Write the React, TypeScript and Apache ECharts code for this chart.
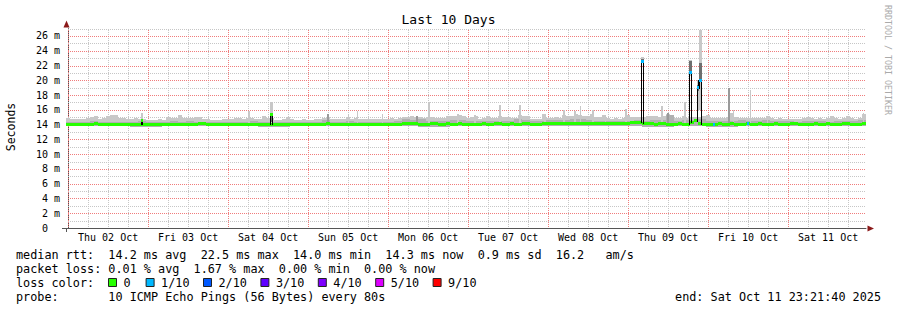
import { useEffect, useRef } from 'react';
import * as echarts from 'echarts';

// ---- time axis: hours relative to Thu 02 Oct 2025 00:00 ----
const T_START = -0.638889; // Wed 01 Oct 23:21:40
const T_END = 239.361111; // Sat 11 Oct 23:21:40
const SMOKE_STEP = 1.2; // hours per smoke / median sample
const DARK_STEP = 2.4; // hours per inner-smoke sample
const FLOOR_STEP = 9.6; // hours per smoke-floor sample

const dayLabels = ['Thu 02 Oct', 'Fri 03 Oct', 'Sat 04 Oct', 'Sun 05 Oct', 'Mon 06 Oct', 'Tue 07 Oct', 'Wed 08 Oct', 'Thu 09 Oct', 'Fri 10 Oct', 'Sat 11 Oct'];
const dayLabelHours = [12, 36, 60, 84, 108, 132, 156, 180, 204, 228];

// light smoke top (ms), 1.2 h samples
const smokeTop = [
  14.95, 14.8, 14.75, 14.8, 14.75, 14.95, 15.0, 15.1, 14.8, 14.85,
  15.2, 15.3, 15.25, 14.9, 14.85, 14.75, 14.8, 14.9, 14.75, 14.8,
  14.6, 14.65, 14.6, 14.7, 14.65, 15.0, 14.85, 14.9, 15.3, 14.9,
  14.85, 14.9, 15.05, 15.0, 14.8, 14.7, 14.6, 14.65, 14.6, 14.7,
  14.8, 14.75, 14.9, 14.85, 14.7, 14.95, 14.85, 14.8, 14.75, 15.1,
  14.85, 14.9, 14.6, 14.65, 14.7, 15.05, 14.7, 14.65, 14.6, 14.7,
  14.65, 14.6, 14.75, 14.8, 14.85, 15.0, 14.75, 14.7, 14.75, 14.8,
  15.05, 14.8, 14.9, 14.8, 14.7, 14.75, 14.7, 14.75, 14.7, 14.75,
  14.7, 14.85, 14.8, 14.9, 15.05, 15.0, 15.1, 15.05, 15.0, 14.9,
  15.0, 15.0, 14.85, 14.9, 14.95, 15.2, 15.1, 15.15, 15.3, 15.1,
  14.9, 15.0, 15.2, 14.8, 14.85, 15.2, 14.9, 14.95, 15.1, 15.05,
  15.0, 14.95, 14.9, 15.3, 15.2, 15.15, 14.8, 14.75, 14.8, 15.5,
  14.9, 14.9, 15.05, 14.9, 15.3, 15.2, 15.2, 15.5, 15.3, 15.2,
  15.1, 15.4, 15.0, 15.0, 15.25, 14.85, 14.8, 14.85, 14.8, 14.9,
  15.3, 15.0, 15.05, 15.0, 15.0, 15.2, 15.15, 15.2, 15.0, 15.2,
  15.5, 15.3, 14.9, 14.9, 15.1, 14.85, 15.0, 15.0, 15.0, 15.2,
  15.25, 14.9, 14.9, 14.95, 14.9, 15.0, 15.6, 15.0, 14.9, 14.95,
  14.9, 14.9, 14.95, 14.9, 14.95, 15.2, 14.85, 14.8, 14.85, 14.8,
  14.75, 14.8, 14.75, 14.8, 14.85, 15.05, 14.9, 14.8, 14.85, 14.8,
  14.85, 15.1, 14.85, 14.8, 14.85, 15.2, 14.9, 14.8, 14.85, 15.4,
];

// inner (darker) smoke top, 2.4 h samples
const darkTop = [
  14.4, 14.35, 14.4, 14.45, 14.4, 14.35, 14.4, 14.35, 14.4, 14.45,
  14.3, 14.35, 14.4, 14.45, 14.4, 14.5, 14.4, 14.35, 14.3, 14.35,
  14.4, 14.35, 14.4, 14.45, 14.4, 14.35, 14.3, 14.35, 14.3, 14.35,
  14.3, 14.4, 14.6, 14.4, 14.4, 14.45, 14.4, 14.35, 14.35, 14.4,
  14.4, 14.45, 14.7, 14.65, 14.8, 14.5, 14.5, 14.55, 14.6, 14.6,
  14.5, 14.5, 14.5, 14.55, 14.5, 14.55, 14.7, 14.65, 14.5, 14.5,
  14.6, 14.6, 14.65, 14.7, 14.75, 14.6, 14.55, 14.5, 14.45, 14.5,
  14.55, 14.6, 14.55, 14.6, 14.6, 15.3, 14.5, 14.6, 14.6, 14.7,
  14.55, 14.5, 14.5, 14.5, 14.6, 14.5, 14.55, 14.6, 14.5, 14.5,
  14.45, 14.4, 14.45, 14.5, 14.45, 14.4, 14.5, 14.45, 14.5, 14.6,
];

// smoke floor, 9.6 h samples
const smokeBottom = [
  13.75, 13.8, 13.7, 13.8, 13.75, 13.8, 13.7, 13.8, 13.75, 13.8,
  13.8, 13.7, 13.8, 13.75, 13.85, 13.8, 13.75, 13.8, 13.7, 13.75,
  13.7, 13.8, 13.75, 13.8, 13.75,
];

// median rtt (ms), 1.2 h samples
const medianRtt = [
  14.05, 14.05, 14.0, 14.05, 14.05, 14.05, 14.05, 14.1, 14.05, 14.05, 14.05, 14.05, 14.0, 14.05, 14.05, 14.05, 14.05, 14.05, 14.05, 14.05,
  14.05, 14.05, 14.05, 14.0, 14.05, 14.05, 14.05, 14.05, 14.05, 14.05, 14.05, 14.05, 14.05, 14.1, 14.1, 14.05, 14.05, 14.0, 14.05, 14.05,
  14.05, 14.05, 14.05, 14.05, 14.05, 14.05, 14.05, 14.05, 14.0, 14.05, 14.05, 14.05, 14.05, 14.05, 14.05, 14.05, 14.05, 14.0, 14.05, 14.05,
  14.05, 14.05, 14.05, 14.05, 14.05, 14.1, 14.05, 14.05, 14.05, 14.05, 14.05, 14.05, 14.05, 14.05, 14.0, 14.05, 14.05, 14.05, 14.05, 14.05,
  14.05, 14.05, 14.05, 14.05, 14.1, 14.1, 14.1, 14.1, 14.05, 14.05, 14.05, 14.1, 14.1, 14.05, 14.05, 14.1, 14.05, 14.05, 14.1, 14.05,
  14.05, 14.05, 14.05, 14.05, 14.1, 14.05, 14.05, 14.1, 14.1, 14.05, 14.05, 14.1, 14.05, 14.05, 14.1, 14.1, 14.05, 14.05, 14.05, 14.1,
  14.1, 14.15, 14.1, 14.15, 14.1, 14.15, 14.2, 14.15, 14.1, 14.15, 14.2, 14.2, 14.15, 14.2, 14.2, 14.15, 14.1, 14.15, 14.1, 14.15,
  14.2, 14.25, 14.3, 14.3, 14.2, 14.15, 14.1, 14.05, 14.1, 14.1, 14.05, 14.0, 14.05, 14.1, 14.05, 14.05, 14.3, 14.5, 14.1, 14.05,
  14.0, 14.05, 13.95, 14.1, 14.0, 14.05, 14.1, 14.0, 14.05, 13.95, 14.1, 14.05, 14.0, 14.1, 14.05, 13.95, 14.05, 14.1, 14.0, 14.05,
  14.05, 14.1, 14.1, 14.05, 14.05, 14.0, 14.05, 14.1, 14.05, 14.05, 14.1, 14.05, 14.0, 14.05, 14.1, 14.1, 14.05, 14.0, 14.05, 14.1,
];

// thin smoke peaks
const peakHours = [53.96, 77.66, 83.96, 86.66, 94.16, 104.36, 107.96, 116.66, 121.76, 129.26, 135.26, 142.76, 148.46, 151.76, 153.56, 157.16, 161.06, 167.06, 177.86, 179.66, 184.76, 197.96, 199.46, 204.56, 209.66, 238.46];
const peakSpan = [0.6, 0.6, 0.3, 0.3, 0.3, 0.6, 0.6, 0.6, 0.6, 0.6, 0.6, 0.6, 0.6, 0.6, 0.3, 0.6, 0.3, 0.6, 0.6, 0.6, 0.6, 0.6, 0.3, 0.3, 0.3, 0.3];
const peakTop = [15.9, 15.5, 15.3, 15.8, 15.5, 15.15, 17.1, 15.4, 15.25, 16.6, 16.7, 15.5, 16.0, 15.85, 16.5, 16.0, 15.3, 16.1, 16.5, 15.6, 17.0, 19.0, 16.0, 18.7, 15.2, 15.6];
const peakShade = [0, 1, 0, 0, 0, 1, 0, 0, 0, 0, 0, 0, 0, 0, 0, 0, 0, 0, 0, 1, 0, 1, 0, 0, 0, 0];

// median spikes
const spikeHours = [21.86, 60.56, 171.86, 186.26, 188.66, 189.26];
const spikeSpan = [0.6, 0.9, 0.9, 0.9, 0.6, 0.9];
const spikeMedian = [14.6, 15.4, 22.55, 21.0, 19.0, 20.0];
const spikeLoss = [0, 0, 1, 1, 1, 1];
const spikeLow = [13.8, 13.8, 22.3, 20.6, 15.8, 16.0];
const spikeHigh = [15.55, 17.1, 23.1, 22.75, 20.0, 26.8];
const spikeDarkLow = [14.3, 14.4, 22.4, 21.0, 18.6, 20.0];
const spikeDarkHigh = [14.6, 15.6, 22.9, 22.6, 19.4, 22.3];

// isolated loss marks on the median
const lossHours = [193.46, 203.66];
const lossSpan = [0.6, 0.6];
const lossLevel = [1, 1];

const lossLabels = ['0', '1/10', '2/10', '3/10', '4/10', '5/10', '9/10'];
const lossColors = ['#26ff00', '#00b8ff', '#0059ff', '#5e00ff', '#7e00ff', '#dd00ff', '#ff0000'];

const titleText = 'Last 10 Days';
const yAxisName = 'Seconds';
const watermark = 'RRDTOOL / TOBI OETIKER';
const rttLine = 'median rtt:  14.2 ms avg  22.5 ms max  14.0 ms min  14.3 ms now  0.9 ms sd  16.2   am/s';
const lossLine = 'packet loss: 0.01 % avg  1.67 % max  0.00 % min  0.00 % now';
const lossColorLabel = 'loss color:';
const probeLine = 'probe:       10 ICMP Echo Pings (56 Bytes) every 80s';
const endLine = 'end: Sat Oct 11 23:21:40 2025';

// ---- styling / layout ----
const FONT = '"DejaVu Sans Mono", monospace';
const GRID_LEFT = 66;
const GRID_RIGHT = 31;
const GRID_TOP = 28.6;
const GRID_BOTTOM = 82;
const Y_MAX = 27;
const MAJOR = '#f07c7c';
const MINOR = '#c6c6c6';
const AXIS = '#555555';
const ARROW = '#8b1a1a';
const SMOKE = '#c8c8c8';
const SMOKE_DARK = '#b0b0b0';
const PEAK_DARK = '#9a9a9a';
const SPIKE_DARK = '#6e6e6e';

function rectShape(api: any, t0: number, t1: number, lo: number, hi: number) {
  const a = api.coord([t0, hi]);
  const b = api.coord([t1, lo]);
  const x0 = Math.round(a[0]);
  const x1 = Math.round(b[0]);
  const y0 = Math.round(a[1]);
  const y1 = Math.round(b[1]);
  return { x: x0, y: y0, width: Math.max(1, x1 - x0), height: Math.max(1, y1 - y0) };
}

function bandSeries(id: string, items: number[][], color: (api: any) => string, z: number) {
  return {
    type: 'custom',
    id,
    z,
    silent: true,
    clip: true,
    coordinateSystem: 'cartesian2d',
    encode: { x: [0, 1], y: [2, 3] },
    data: items,
    renderItem: (_p: any, api: any) => ({
      type: 'rect',
      shape: rectShape(api, api.value(0), api.value(1), api.value(2), api.value(3)),
      style: { fill: color(api) },
    }),
  };
}

function medianAt(t: number) {
  const i = Math.min(medianRtt.length - 1, Math.max(0, Math.floor((t - T_START) / SMOKE_STEP)));
  return medianRtt[i];
}

// dotted grid lines (1 px on, 1 px off) placed on the axis scales
function gridSeries(id: string, values: number[], majors: boolean[], vertical: boolean) {
  return {
    type: 'custom',
    id,
    z: 1,
    silent: true,
    coordinateSystem: 'cartesian2d',
    encode: { x: 0, y: 1 },
    data: values.map((v) => (vertical ? [v, 0] : [T_START, v])),
    renderItem: (params: any, api: any) => {
      const idx = params.dataIndex;
      const fill = majors[idx] ? MAJOR : MINOR;
      const v = values[idx];
      const children: any[] = [];
      if (vertical) {
        const x = Math.round(api.coord([v, 0])[0]);
        const yTop = Math.round(api.coord([v, Y_MAX])[1]);
        const yBot = Math.round(api.coord([v, 0])[1]);
        for (let y = yBot - 2; y >= yTop; y -= 2) children.push({ type: 'rect', shape: { x, y, width: 1, height: 1 }, style: { fill } });
      } else {
        const y = Math.round(api.coord([T_START, v])[1]);
        const xL = Math.round(api.coord([T_START, v])[0]);
        const xR = Math.round(api.coord([T_END, v])[0]);
        for (let x = xL + 2; x < xR; x += 2) children.push({ type: 'rect', shape: { x, y, width: 1, height: 1 }, style: { fill } });
      }
      return { type: 'group', children };
    },
  };
}

function buildOption() {
  const smokeItems = smokeTop.map((hi, i) => [T_START + i * SMOKE_STEP, T_START + (i + 1) * SMOKE_STEP, smokeBottom[Math.floor((i * SMOKE_STEP) / FLOOR_STEP + 1e-9)], hi]);
  const darkItems = darkTop.map((hi, j) => [T_START + j * DARK_STEP, T_START + (j + 1) * DARK_STEP, smokeBottom[Math.floor((j * DARK_STEP) / FLOOR_STEP + 1e-9)], hi]);
  const peakItems = peakHours.map((t, k) => [t, t + peakSpan[k], 14.0, peakTop[k], peakShade[k]]);
  const spikeSmokeItems = spikeHours.map((t, k) => [t, t + spikeSpan[k], spikeLow[k], spikeHigh[k]]);
  const spikeDarkItems = spikeHours.map((t, k) => [t, t + spikeSpan[k], spikeDarkLow[k], spikeDarkHigh[k]]);
  const medianItems = medianRtt.map((m, i) => [T_START + i * SMOKE_STEP, T_START + (i + 1) * SMOKE_STEP, m, 0]);
  const spikeItems = spikeHours.map((t, k) => {
    const end = t + spikeSpan[k];
    const prevAdj = k > 0 && Math.abs(spikeHours[k - 1] + spikeSpan[k - 1] - t) < 1e-6;
    const nextAdj = k < spikeHours.length - 1 && Math.abs(spikeHours[k + 1] - end) < 1e-6;
    const prev = prevAdj ? spikeMedian[k - 1] : medianAt(t - 0.01);
    const next = nextAdj ? spikeMedian[k + 1] : medianAt(end + 0.01);
    return [t, end, spikeMedian[k], spikeLoss[k], prev, next];
  });
  const lossItems = lossHours.map((t, k) => [t, t + lossSpan[k], medianAt(t), lossLevel[k]]);

  const gridHours: number[] = [];
  const gridHoursMajor: boolean[] = [];
  for (let h = 0; h < T_END; h += 6) {
    gridHours.push(h);
    gridHoursMajor.push(h % 24 === 0);
  }
  const gridMs: number[] = [];
  const gridMsMajor: boolean[] = [];
  for (let v = 1; v <= Y_MAX; v += 1) {
    gridMs.push(v);
    gridMsMajor.push(v % 2 === 0);
  }

  const series: any[] = [
    gridSeries('vgrid', gridHours, gridHoursMajor, true),
    gridSeries('hgrid', gridMs, gridMsMajor, false),
    bandSeries('smoke', smokeItems, () => SMOKE, 2),
    bandSeries('smokeDark', darkItems, () => SMOKE_DARK, 3),
    bandSeries('peaks', peakItems, (api) => (api.value(4) ? PEAK_DARK : SMOKE), 4),
    bandSeries('spikeSmoke', spikeSmokeItems, () => SMOKE, 5),
    bandSeries('spikeSmokeDark', spikeDarkItems, () => SPIKE_DARK, 6),
    {
      type: 'custom',
      id: 'median',
      z: 7,
      silent: true,
      clip: true,
      coordinateSystem: 'cartesian2d',
      encode: { x: [0, 1], y: 2 },
      data: medianItems,
      renderItem: (_p: any, api: any) => {
        const a = api.coord([api.value(0), api.value(2)]);
        const b = api.coord([api.value(1), api.value(2)]);
        const x0 = Math.round(a[0]);
        const x1 = Math.round(b[0]);
        return {
          type: 'rect',
          shape: { x: x0, y: Math.round(a[1] - 1.5), width: x1 - x0, height: 3 },
          style: { fill: lossColors[api.value(3)] },
        };
      },
    },
    {
      type: 'custom',
      id: 'spikes',
      z: 8,
      silent: true,
      clip: true,
      coordinateSystem: 'cartesian2d',
      encode: { x: [0, 1], y: 2 },
      data: spikeItems,
      renderItem: (_p: any, api: any) => {
        const t0 = api.value(0);
        const t1 = api.value(1);
        const med = api.value(2);
        const loss = api.value(3);
        const pA = api.coord([t0, med]);
        const pB = api.coord([t1, med]);
        const x0 = Math.round(pA[0]);
        const x1 = Math.round(pB[0]);
        const yMed = pA[1];
        const yPrev = api.coord([t0, api.value(4)])[1];
        const yNext = api.coord([t0, api.value(5)])[1];
        const edge = (x: number, ya: number, yb: number) => {
          const top = Math.round(Math.min(ya, yb));
          const bot = Math.round(Math.max(ya, yb) + 1);
          return { type: 'rect', shape: { x, y: top, width: 1, height: Math.max(1, bot - top) }, style: { fill: '#000' } };
        };
        return {
          type: 'group',
          children: [
            edge(x0, yPrev, yMed),
            edge(x1 - 1, yMed, yNext),
            { type: 'rect', shape: { x: x0, y: Math.round(yMed - 1.5), width: Math.max(1, x1 - x0), height: 3 }, style: { fill: lossColors[loss] } },
          ],
        };
      },
    },
    {
      type: 'custom',
      id: 'loss',
      z: 9,
      silent: true,
      clip: true,
      coordinateSystem: 'cartesian2d',
      encode: { x: [0, 1], y: 2 },
      data: lossItems,
      renderItem: (_p: any, api: any) => {
        const a = api.coord([api.value(0), api.value(2)]);
        const b = api.coord([api.value(1), api.value(2)]);
        const x0 = Math.round(a[0]);
        const x1 = Math.round(b[0]);
        return {
          type: 'rect',
          shape: { x: x0, y: Math.round(a[1] - 1.5), width: Math.max(1, x1 - x0), height: 3 },
          style: { fill: lossColors[api.value(3)] },
        };
      },
    },
  ];

  const txt = (text: string, x: number, y: number, size: number, align: string, extra: any = {}, fill = '#000') => ({
    type: 'text',
    x,
    y,
    z: 100,
    silent: true,
    ...extra,
    style: {
      text,
      fontFamily: FONT,
      fontSize: size,
      fill,
      align,
      verticalAlign: 'middle',
      textAlign: align,
      textVerticalAlign: 'middle',
    },
  });

  const ROW = [254.7, 268.9, 283.1, 297.3];
  const LEG_FONT = 11.8;
  const graphics: any[] = [
    txt(titleText, 448.5, 19.5, 13, 'center'),
    txt(yAxisName, 11, 127, 11.5, 'center', { rotation: Math.PI / 2 }),
    txt(watermark, 887.5, 60, 8.3, 'center', { rotation: -Math.PI / 2 }, '#aaaaaa'),
    txt(rttLine, 16, ROW[0], LEG_FONT, 'left'),
    txt(lossLine, 16, ROW[1], LEG_FONT, 'left'),
    txt(lossColorLabel, 16, ROW[2], LEG_FONT, 'left'),
    txt(probeLine, 16, ROW[3], LEG_FONT, 'left'),
    txt(endLine, 881, ROW[3], LEG_FONT, 'right'),
    // axis arrows
    { type: 'polygon', z: 100, silent: true, shape: { points: [[63.5, 27.5], [69.5, 27.5], [66.5, 20.5]] }, style: { fill: ARROW } },
    { type: 'polygon', z: 100, silent: true, shape: { points: [[867.5, 225.5], [867.5, 231.5], [874, 228.5]] }, style: { fill: ARROW } },
    // axis overhangs
    { type: 'rect', z: 100, silent: true, shape: { x: 62, y: 228, width: 4, height: 1 }, style: { fill: AXIS } },
    { type: 'rect', z: 100, silent: true, shape: { x: 66, y: 228, width: 1, height: 4 }, style: { fill: AXIS } },
  ];
  let boxX = 108.5;
  lossLabels.forEach((lab, k) => {
    graphics.push({ type: 'rect', z: 100, silent: true, shape: { x: boxX, y: 278.5, width: 8, height: 8 }, style: { fill: lossColors[k], stroke: '#222', lineWidth: 1 } });
    graphics.push(txt(lab, boxX + 15, ROW[2], LEG_FONT, 'left'));
    boxX += 31 + 6.6 * lab.length;
  });

  return {
    animation: false,
    backgroundColor: '#ffffff',
    grid: { left: GRID_LEFT, right: GRID_RIGHT, top: GRID_TOP, bottom: GRID_BOTTOM, containLabel: false, outerBoundsMode: 'none' },
    xAxis: {
      type: 'value',
      min: T_START,
      max: T_END,
      axisLine: { show: true, onZero: false, lineStyle: { color: AXIS, width: 1 } },
      axisTick: { show: false },
      splitLine: { show: false },
      axisLabel: {
        customValues: dayLabelHours,
        formatter: (v: number) => {
          const k = dayLabelHours.findIndex((h) => Math.abs(h - v) < 1e-6);
          return k >= 0 ? dayLabels[k] : '';
        },
        fontFamily: FONT,
        fontSize: 10,
        color: '#000',
        margin: 4,
      },
    },
    yAxis: {
      type: 'value',
      min: 0,
      max: Y_MAX,
      interval: 1,
      axisLine: { show: true, lineStyle: { color: AXIS, width: 1 } },
      axisTick: { show: false },
      axisLabel: {
        formatter: (v: number) => {
          if (Math.round(v) % 2 !== 0) return '';
          return v === 0 ? '{z|0}' : `${v} m`;
        },
        fontFamily: FONT,
        fontSize: 10,
        color: '#000',
        margin: 6,
        rich: { z: { fontFamily: FONT, fontSize: 10, color: '#000', padding: [0, 12, 0, 0] } },
      },
      splitLine: { show: false },
    },
    series,
    graphic: graphics,
  };
}

export default function App() {
  const ref = useRef<HTMLDivElement>(null);
  useEffect(() => {
    document.body.style.margin = '0';
    const chart = echarts.init(ref.current as HTMLDivElement, undefined, { renderer: 'svg', width: 897, height: 310 });
    chart.setOption(buildOption() as any);
    return () => chart.dispose();
  }, []);
  return <div ref={ref} style={{ position: 'absolute', left: 0, top: 0, width: 897, height: 310, background: '#fff' }} />;
}
